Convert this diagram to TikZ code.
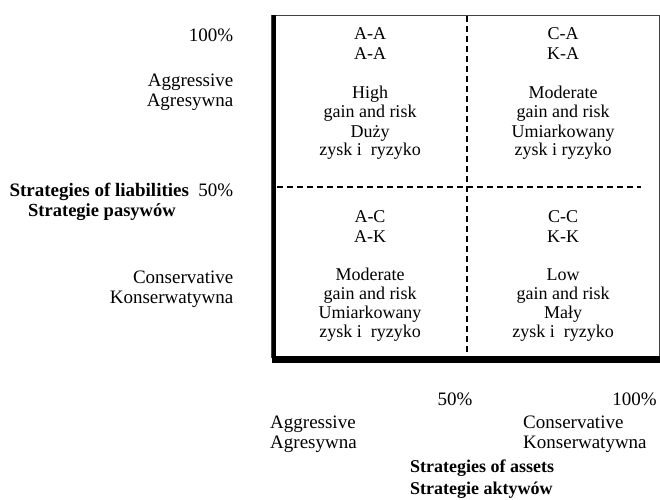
\documentclass[tikz,border=0pt]{standalone}
\usepackage{fontspec}
\setmainfont{Liberation Serif}
\begin{document}
\begin{tikzpicture}[x=1pt,y=-1pt,
  txt/.style={inner sep=0pt,anchor=base,font=\fontsize{18}{20}\selectfont},
  lbl/.style={inner sep=0pt,anchor=base east,font=\fontsize{19}{21}\selectfont},
  ltxt/.style={inner sep=0pt,anchor=base west,font=\fontsize{19}{21}\selectfont},
  btxt/.style={inner sep=0pt,anchor=base west,font=\fontsize{18.5}{21}\selectfont\bfseries},
  frameln/.style={line width=1.2pt,draw=black!75},
  thickln/.style={line width=4.5pt},
  botln/.style={line width=6.5pt},
  dashln/.style={line width=1.3pt,dash pattern=on 6pt off 4pt}]
\useasboundingbox (0,0) rectangle (660,499);
% frame
\coordinate (f1) at (271.6,15.5);
\coordinate (f2) at (659.4,357);
\coordinate (lt) at (274,15);
\coordinate (lb) at (274,363);
\coordinate (bl) at (272,359.7);
\coordinate (br) at (660,359.7);
\coordinate (vt) at (467,16);
\coordinate (vb) at (467,356);
\coordinate (hl) at (277,187);
\coordinate (hr) at (641,187);
\draw[frameln] (f1) rectangle (f2);
\draw[thickln] (lt) -- (lb);
\draw[botln] (bl) -- (br);
\draw[dashln] (vt) -- (vb);
\draw[dashln] (hl) -- (hr);
% top-left cell
\node[txt] (aa1) at (370,39) {A-A};
\node[txt] (aa2) at (370,59) {A-A};
\node[txt] (aa3) at (370,98) {High};
\node[txt] (aa4) at (370,117.5) {gain and risk};
\node[txt] (aa5) at (370,137) {Duży};
\node[txt] (aa6) at (370,155.5) {zysk i\ \ ryzyko};
% top-right cell
\node[txt] (ca1) at (563,39) {C-A};
\node[txt] (ca2) at (563,59) {K-A};
\node[txt] (ca3) at (563,98) {Moderate};
\node[txt] (ca4) at (563,117.5) {gain and risk};
\node[txt] (ca5) at (563,137) {Umiarkowany};
\node[txt] (ca6) at (563,155.5) {zysk i ryzyko};
% bottom-left cell
\node[txt] (ac1) at (370,222) {A-C};
\node[txt] (ac2) at (370,242) {A-K};
\node[txt] (ac3) at (370,280) {Moderate};
\node[txt] (ac4) at (370,299) {gain and risk};
\node[txt] (ac5) at (370,318) {Umiarkowany};
\node[txt] (ac6) at (370,337) {zysk i\ \ ryzyko};
% bottom-right cell
\node[txt] (cc1) at (563,222) {C-C};
\node[txt] (cc2) at (563,242) {K-K};
\node[txt] (cc3) at (563,280) {Low};
\node[txt] (cc4) at (563,299) {gain and risk};
\node[txt] (cc5) at (563,318) {Mały};
\node[txt] (cc6) at (563,337) {zysk i\ \ ryzyko};
% left axis
\node[lbl] (l100) at (233.5,41) {100\%};
\node[lbl] (lag1) at (233.5,86) {Aggressive};
\node[lbl] (lag2) at (233.5,106) {Agresywna};
\node[lbl] (l50) at (233.5,196) {\textbf{Strategies of liabilities}\ \ 50\%};
\node[btxt] (lsp) at (28,216.5) {Strategie pasywów};
\node[lbl] (lco1) at (233.5,283) {Conservative};
\node[lbl] (lco2) at (233.5,303) {Konserwatywna};
% bottom axis
\node[lbl,anchor=base] (b50) at (455,405) {50\%};
\node[lbl] (b100) at (657,405) {100\%};
\node[ltxt] (bag1) at (270,428) {Aggressive};
\node[ltxt] (bag2) at (270,448) {Agresywna};
\node[ltxt] (bco1) at (523,428) {Conservative};
\node[ltxt] (bco2) at (523,448) {Konserwatywna};
\node[btxt,font=\fontsize{18}{20}\selectfont\bfseries] (bsa) at (410,472) {Strategies of assets};
\node[btxt,font=\fontsize{18}{20}\selectfont\bfseries] (bsa2) at (410,494) {Strategie aktywów};
\end{tikzpicture}
\end{document}
